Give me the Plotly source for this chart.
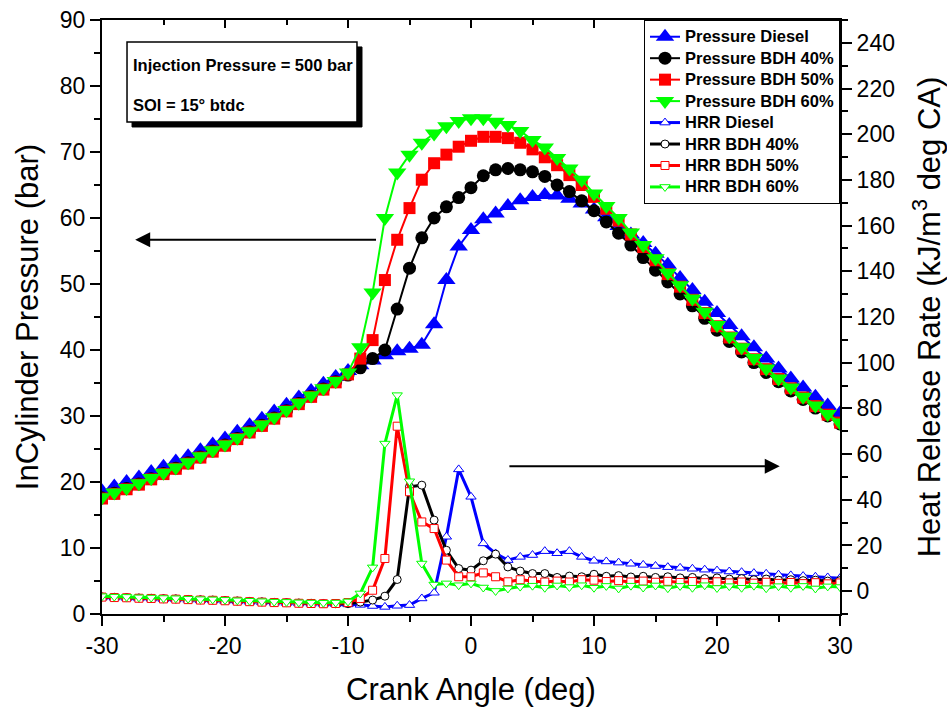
import plotly.graph_objects as go

angle = list(range(-30, 31))

x_ticks = [-30, -20, -10, 0, 10, 20, 30]
x_tick_labels = ["-30", "-20", "-10", "0", "10", "20", "30"]

p_diesel = [18.6, 19.3, 20.0, 20.7, 21.5, 22.3, 23.1, 23.9, 24.8, 25.7,
            26.6, 27.6, 28.6, 29.6, 30.7, 31.7, 32.8, 33.8, 34.9, 35.9,
            36.8, 37.7, 38.4, 39.2, 39.8, 40.2, 40.8, 43.9, 50.6, 55.7,
            58.2, 59.8, 60.7, 61.8, 62.7, 63.2, 63.5, 63.4, 62.9, 62.2,
            61.3, 60.1, 58.8, 57.5, 56.2, 54.6, 52.9, 50.9, 49.1, 47.3,
            45.6, 43.8, 42.1, 40.4, 38.7, 37.2, 35.7, 34.3, 32.9, 31.6, 30.4]
p_bdh40 = [17.6, 18.3, 19.0, 19.7, 20.5, 21.3, 22.1, 22.9, 23.8, 24.7,
           25.6, 26.6, 27.6, 28.6, 29.7, 30.8, 31.9, 33.0, 34.1, 35.2,
           36.2, 37.3, 38.7, 40.0, 46.2, 52.4, 57.0, 60.0, 61.7, 63.1,
           64.6, 66.4, 67.3, 67.5, 67.3, 67.0, 66.3, 65.0, 64.0, 62.6,
           61.1, 59.4, 57.7, 55.9, 54.0, 52.1, 50.3, 48.5, 46.7, 44.8,
           43.0, 41.3, 39.7, 38.1, 36.6, 35.2, 33.8, 32.5, 31.2, 30.0, 28.8]
p_bdh50 = [17.5, 18.2, 18.9, 19.6, 20.4, 21.2, 22.0, 22.8, 23.7, 24.6,
           25.5, 26.5, 27.5, 28.5, 29.6, 30.7, 31.8, 32.9, 34.0, 35.1,
           36.3, 38.7, 41.5, 50.6, 56.7, 61.5, 65.8, 68.3, 69.6, 70.8,
           71.7, 72.3, 72.3, 72.1, 71.4, 70.4, 69.2, 68.0, 66.5, 65.0,
           63.2, 61.4, 59.6, 57.5, 55.6, 53.6, 51.5, 49.6, 47.6, 45.6,
           43.6, 41.9, 40.2, 38.6, 37.1, 35.6, 34.2, 32.8, 31.5, 30.2, 29.0]
p_bdh60 = [17.7, 18.4, 19.1, 19.8, 20.6, 21.4, 22.2, 23.0, 23.9, 24.8,
           25.7, 26.7, 27.7, 28.7, 29.8, 30.9, 32.0, 33.1, 34.2, 35.3,
           36.6, 40.4, 48.7, 60.0, 66.9, 69.6, 71.4, 72.8, 73.9, 74.7,
           75.1, 75.1, 74.6, 74.1, 73.2, 71.8, 70.7, 69.1, 67.5, 65.8,
           63.7, 61.8, 60.0, 57.8, 55.9, 53.9, 51.7, 49.8, 47.8, 45.8,
           43.8, 42.1, 40.4, 38.8, 37.2, 35.7, 34.3, 32.9, 31.6, 30.3, 29.0]

hrr_diesel = [-2.8, -2.9, -3.0, -3.2, -3.3, -3.5, -3.6, -3.8, -4.0, -4.1,
              -4.3, -4.5, -4.7, -4.9, -5.1, -5.2, -5.4, -5.5, -5.6, -5.7,
              -5.8, -6.0, -6.5, -6.9, -6.4, -6.1, -3.2, -0.7, 23.8, 53.3,
              41.3, 20.9, 16.5, 13.6, 15.0, 15.8, 17.5, 16.6, 17.5, 15.0,
              13.3, 13.0, 12.5, 12.0, 11.5, 11.0, 10.5, 10.2, 9.8, 9.4,
              9.0, 8.6, 8.3, 7.9, 7.6, 7.2, 6.9, 6.6, 6.3, 6.0, 5.7]
hrr_bdh40 = [-2.5, -2.7, -2.8, -3.0, -3.1, -3.3, -3.4, -3.6, -3.8, -3.9,
             -4.1, -4.3, -4.5, -4.7, -4.9, -5.0, -5.2, -5.3, -5.4, -5.5,
             -5.5, -4.8, -3.9, -2.2, 5.1, 45.7, 46.4, 31.1, 17.9, 9.9,
             9.2, 13.3, 16.2, 10.6, 8.8, 7.7, 7.7, 6.0, 6.6, 6.3,
             7.4, 6.5, 6.8, 6.2, 6.5, 6.0, 6.3, 5.8, 6.0, 5.5,
             5.8, 5.3, 5.5, 5.0, 5.3, 4.8, 5.0, 4.6, 4.8, 4.4, 4.6]
hrr_bdh50 = [-2.6, -2.8, -2.9, -3.1, -3.2, -3.4, -3.5, -3.7, -3.9, -4.0,
             -4.2, -4.4, -4.6, -4.8, -5.0, -5.1, -5.3, -5.4, -5.5, -5.4,
             -5.0, -3.2, 0.4, 14.3, 72.2, 43.5, 30.3, 27.4, 13.6, 6.3,
             6.3, 8.0, 6.3, 4.1, 5.0, 4.4, 4.0, 4.4, 4.0, 5.0,
             4.8, 4.2, 4.6, 4.0, 4.4, 3.9, 4.3, 3.8, 4.2, 3.7,
             4.1, 3.6, 4.0, 3.5, 3.9, 3.4, 3.8, 3.3, 3.7, 3.2, 3.6]
hrr_bdh60 = [-2.2, -2.4, -2.5, -2.7, -2.8, -3.0, -3.1, -3.3, -3.5, -3.6,
             -3.8, -4.0, -4.2, -4.4, -4.6, -4.7, -4.9, -5.0, -5.1, -5.0,
             -4.5, -1.0, 10.4, 64.6, 85.8, 48.1, 12.1, 2.9, 3.4, 2.6,
             3.4, 1.6, 0.1, 1.2, 2.0, 2.4, 1.5, 2.5, 1.8, 2.6,
             1.5, 2.3, 1.2, 2.4, 1.6, 2.5, 1.3, 2.3, 1.5, 2.6,
             1.4, 2.2, 1.5, 2.4, 1.3, 2.2, 1.5, 2.3, 1.2, 2.1, 1.8]

BLUE, BLACK, RED, GREEN = "#0000ff", "#000000", "#ff0000", "#00ff00"
FONT = "Liberation Sans, Arial, sans-serif"


def legend_label(text):
    return '<span style="font-size:16.5px">' + text + "</span>"


fig = go.Figure()

pressure = [
    ("Pressure Diesel", p_diesel, BLUE, "triangle-up", 16),
    ("Pressure BDH 40%", p_bdh40, BLACK, "circle", 13),
    ("Pressure BDH 50%", p_bdh50, RED, "square", 12),
    ("Pressure BDH 60%", p_bdh60, GREEN, "triangle-down", 16),
]
for name, vals, col, sym, sz in pressure:
    fig.add_trace(go.Scatter(
        x=angle, y=vals, name=legend_label(name), mode="lines+markers",
        line=dict(color=col, width=2),
        marker=dict(symbol=sym, size=sz, color=col, line=dict(width=0)),
        yaxis="y"))

hrr = [
    ("HRR Diesel", hrr_diesel, BLUE, "triangle-up", 9),
    ("HRR BDH 40%", hrr_bdh40, BLACK, "circle", 8),
    ("HRR BDH 50%", hrr_bdh50, RED, "square", 8),
    ("HRR BDH 60%", hrr_bdh60, GREEN, "triangle-down", 9),
]
for name, vals, col, sym, sz in hrr:
    fig.add_trace(go.Scatter(
        x=angle, y=vals, name=legend_label(name), mode="lines+markers",
        line=dict(color=col, width=3),
        marker=dict(symbol=sym, size=sz, color="white", line=dict(color=col, width=1)),
        yaxis="y2"))

# helper trace to carry the top (mirrored) axis
fig.add_trace(go.Scatter(x=angle, y=p_diesel, xaxis="x2", yaxis="y",
                         mode="none", showlegend=False, hoverinfo="skip"))

tickfont = dict(family=FONT, size=23, color="black")
titlefont = dict(family=FONT, size=31, color="black")

fig.update_layout(
    width=947, height=713,
    margin=dict(l=102, r=107, t=20, b=99),
    paper_bgcolor="white", plot_bgcolor="white",
    showlegend=True,
    legend=dict(x=1.0, y=1.0, xanchor="right", yanchor="top",
                bgcolor="white", bordercolor="black", borderwidth=1,
                font=dict(family=FONT, size=14.2, color="black", weight="bold"),
                tracegroupgap=0),
    xaxis=dict(range=[-30, 30], tickvals=x_ticks, ticktext=x_tick_labels,
               showgrid=False, zeroline=False, automargin=False,
               showline=True, linecolor="black", linewidth=2,
               ticks="outside", ticklen=10, tickwidth=2, tickcolor="black",
               minor=dict(dtick=5, ticks="outside", ticklen=6, tickwidth=2, tickcolor="black"),
               tickfont=tickfont, ticklabeloverflow="allow",
               title=dict(text="Crank Angle (deg)", font=titlefont, standoff=21)),
    xaxis2=dict(range=[-30, 30], overlaying="x", side="top", dtick=10, tick0=-30,
                showgrid=False, zeroline=False, showticklabels=False, automargin=False,
                showline=True, linecolor="black", linewidth=2,
                ticks="inside", ticklen=8, tickwidth=2, tickcolor="black",
                minor=dict(dtick=5, ticks="inside", ticklen=5, tickwidth=2, tickcolor="black")),
    yaxis=dict(range=[0, 90], dtick=10, showgrid=False, zeroline=False, automargin=False,
               showline=True, linecolor="black", linewidth=2,
               ticks="outside", ticklen=10, tickwidth=2, tickcolor="black",
               minor=dict(dtick=5, ticks="outside", ticklen=6, tickwidth=2, tickcolor="black"),
               tickfont=tickfont, ticklabeloverflow="allow",
               title=dict(text="InCylinder Pressure (bar)", font=titlefont, standoff=12)),
    yaxis2=dict(range=[-10, 250], dtick=20, tick0=0, overlaying="y", side="right",
                showgrid=False, zeroline=False, automargin=False,
                showline=True, linecolor="black", linewidth=2,
                ticks="outside", ticklen=10, tickwidth=2, tickcolor="black",
                minor=dict(dtick=10, ticks="outside", ticklen=6, tickwidth=2, tickcolor="black"),
                tickfont=tickfont, ticklabeloverflow="allow",
                title=dict(text="Heat Release Rate (kJ/m<sup>3</sup> deg CA)", font=titlefont,
                           standoff=28)),
)

# Annotation box with drop shadow
bx0, bx1, by0, by1 = 0.0339, 0.3455, 0.8283, 0.963
fig.add_shape(type="rect", xref="paper", yref="paper",
              x0=bx0 + 0.0068, x1=bx1 + 0.0068, y0=by0 - 0.0084, y1=by1 - 0.0084,
              fillcolor="black", line=dict(color="black", width=1), layer="above")
fig.add_shape(type="rect", xref="paper", yref="paper",
              x0=bx0, x1=bx1, y0=by0, y1=by1,
              fillcolor="white", line=dict(color="black", width=1.5), layer="above")

boxfont = dict(family=FONT, size=16.5, color="black", weight="bold")
fig.add_annotation(xref="paper", yref="paper", x=0.0393, y=0.924, xanchor="left",
                   yanchor="middle", text="Injection Pressure = 500 bar",
                   showarrow=False, font=boxfont)
fig.add_annotation(xref="paper", yref="paper", x=0.0393, y=0.857, xanchor="left",
                   yanchor="middle", text="SOI = 15° btdc",
                   showarrow=False, font=boxfont)

# Arrows pointing to the axes
fig.add_annotation(x=-27.3, y=56.7, xref="x", yref="y", ax=-7.6, ay=56.7,
                   axref="x", ayref="y", text="", showarrow=True,
                   arrowhead=2, arrowsize=1.5, arrowwidth=2, arrowcolor="black")
fig.add_annotation(x=25.1, y=54.7, xref="x", yref="y2", ax=3.0, ay=54.7,
                   axref="x", ayref="y2", text="", showarrow=True,
                   arrowhead=2, arrowsize=1.5, arrowwidth=2, arrowcolor="black")

fig.write_html("out.html", config={"displayModeBar": False},
               post_script="document.body.style.margin='0px';document.body.style.overflow='hidden';")
